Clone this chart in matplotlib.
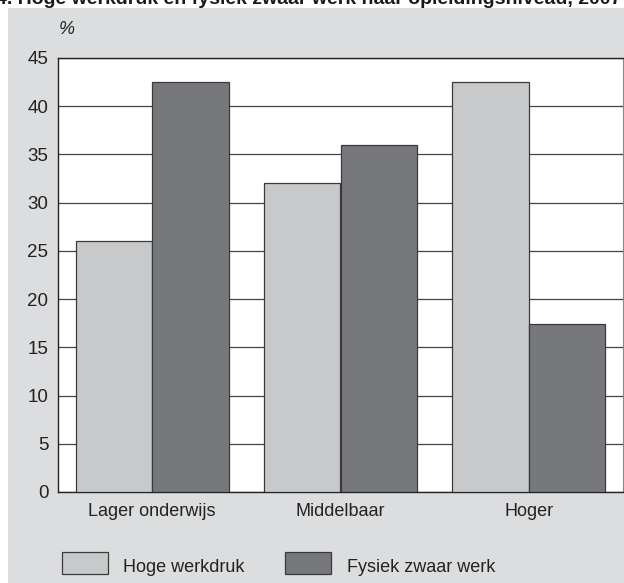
import matplotlib
matplotlib.use("Agg")
import matplotlib.pyplot as plt
from matplotlib.patches import Rectangle
import numpy as np

plt.rcParams['font.family'] = ['Liberation Sans', 'DejaVu Sans']

categories = ["Lager onderwijs", "Middelbaar", "Hoger"]
series_names = ["Hoge werkdruk", "Fysiek zwaar werk"]
hoge_werkdruk = [26.0, 32.0, 42.5]
fysiek_zwaar = [42.5, 36.0, 17.4]
yticks = [0, 5, 10, 15, 20, 25, 30, 35, 40, 45]
title = "4. Hoge werkdruk en fysiek zwaar werk naar opleidingsniveau, 2007"

W, H = 624, 583
fig = plt.figure(figsize=(W / 100, H / 100), dpi=100)
fig.patch.set_facecolor('white')
fig.patches.append(Rectangle((8 / W, 0), 1 - 8 / W, (H - 8) / H, transform=fig.transFigure,
                             facecolor='#dcdddf', edgecolor='none', zorder=-5))

ax = fig.add_axes([58 / W, (H - 492) / H, (623 - 58) / W, (492 - 58) / H])
ax.set_zorder(2)
ax.set_facecolor('white')

light = '#c8c9cb'
dark = '#77787b'
x = np.arange(len(categories))
bw = 0.406
ax.bar(x - bw / 2, hoge_werkdruk, bw, color=light, edgecolor='#3a3a3a', linewidth=0.9, zorder=3)
ax.bar(x + bw / 2, fysiek_zwaar, bw, color=dark, edgecolor='#3a3a3a', linewidth=0.9, zorder=3)

ax.set_xlim(-0.5, 2.5)
ax.set_ylim(0, 45)
ax.set_yticks(yticks)
ax.set_yticklabels([str(v) for v in yticks], fontsize=13.5, color='#222222')
ax.set_xticks(x)
ax.set_xticklabels(categories, fontsize=13, color='#222222')
ax.tick_params(axis='y', length=0, pad=7)
ax.tick_params(axis='x', length=0, pad=8)
ax.yaxis.grid(True, color='#444444', linewidth=0.9, zorder=1)
ax.set_axisbelow(True)
for s in ['left', 'bottom', 'top']:
    ax.spines[s].set_color('#222222')
    ax.spines[s].set_linewidth(1.0)
ax.spines['right'].set_color('#888888')

fig.text(67 / W, 1 - 30 / H, "%", fontsize=13, style='italic', ha='center', va='center', color='#222222')

# title partially cropped at top, as in the reference
fig.text(-4 / W, 1 - 4 / H, title, fontsize=14, fontweight='bold', ha='left', va='baseline', color='#1a1a1a')

# legend
for i, (name, col) in enumerate(zip(series_names, [light, dark])):
    x0 = [62, 285][i]
    fig.patches.append(Rectangle((x0 / W, 1 - 574 / H), 46 / W, 22 / H, transform=fig.transFigure,
                                 facecolor=col, edgecolor='#3a3a3a', linewidth=0.9, zorder=2))
    fig.text([123, 347][i] / W, 1 - 568 / H, name, fontsize=13, ha='left', va='center', color='#222222')

fig.savefig("out.png", dpi=100)
